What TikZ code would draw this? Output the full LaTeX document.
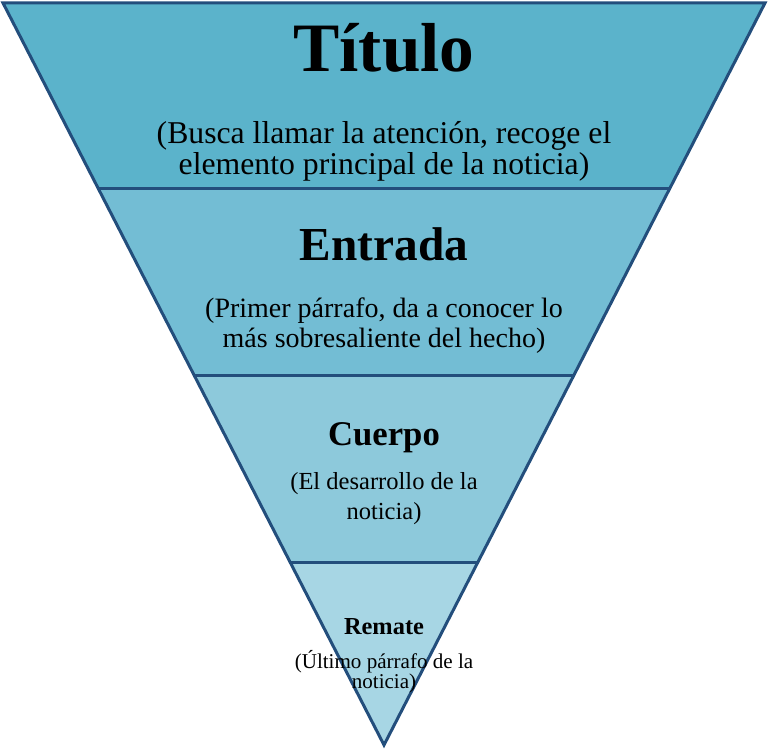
\documentclass[tikz,border=0pt]{standalone}
\usepackage{fontspec}
\setmainfont{Liberation Serif}
\usetikzlibrary{positioning}
\definecolor{bandA}{HTML}{5BB3CB}
\definecolor{bandB}{HTML}{73BDD4}
\definecolor{bandC}{HTML}{8DC9DB}
\definecolor{bandD}{HTML}{A7D6E4}
\definecolor{borde}{HTML}{234E7C}

\begin{document}
\begin{tikzpicture}[x=0.75pt,y=-0.75pt,
bandline/.style={draw=borde, line width=2.25pt, line join=miter},
bigtitle/.style={font=\bfseries\fontsize{52}{56}\selectfont, anchor=base, inner sep=0pt},
midtitle/.style={font=\bfseries\fontsize{35.5}{40}\selectfont, anchor=base, inner sep=0pt},
smalltitle/.style={font=\bfseries\fontsize{26}{30}\selectfont, anchor=base, inner sep=0pt},
tinytitle/.style={font=\bfseries\fontsize{18.3}{22}\selectfont, anchor=base, inner sep=0pt},
subtext/.style={anchor=base, inner sep=0pt, align=center},
]
\useasboundingbox (0,0) rectangle (768,749);
%Corners
\coordinate (tl) at (3,3);
\coordinate (tr) at (765,3);
\coordinate (apex) at (384,745);
\coordinate (l1) at (98,188);
\coordinate (r1) at (670,188);
\coordinate (l2) at (194,375);
\coordinate (r2) at (574,375);
\coordinate (l3) at (290,562);
\coordinate (r3) at (478,562);

%Bands
\fill[bandA] (tl) -- (tr) -- (r1) -- (l1) -- cycle;
\fill[bandB] (l1) -- (r1) -- (r2) -- (l2) -- cycle;
\fill[bandC] (l2) -- (r2) -- (r3) -- (l3) -- cycle;
\fill[bandD] (l3) -- (r3) -- (apex) -- cycle;

%Lines
\draw[bandline] (tl) -- (tr) -- (apex) -- cycle;
\draw[bandline] (l1) -- (r1);
\draw[bandline] (l2) -- (r2);
\draw[bandline] (l3) -- (r3);

%Texts
\node[bigtitle](titulo) at (384,72){Título};
\node[subtext, font=\fontsize{23.8}{23.3}\selectfont](titulo_sub) at (384,175)
  {(Busca llamar la atención, recoge el\\elemento principal de la noticia)};

\node[midtitle](entrada) at (384,260){Entrada};
\node[subtext, font=\fontsize{21}{22.5}\selectfont](entrada_sub) at (384,347)
  {(Primer párrafo, da a conocer lo\\más sobresaliente del hecho)};

\node[smalltitle](cuerpo) at (384,445){Cuerpo};
\node[subtext, font=\fontsize{18.4}{21.8}\selectfont](cuerpo_sub) at (384,519)
  {(El desarrollo de la\\noticia)};

\node[tinytitle](remate) at (384,634){Remate};
\node[subtext, font=\fontsize{15.8}{14.5}\selectfont](remate_sub) at (384,688)
  {(Último párrafo de la\\noticia)};
\end{tikzpicture}
\end{document}
